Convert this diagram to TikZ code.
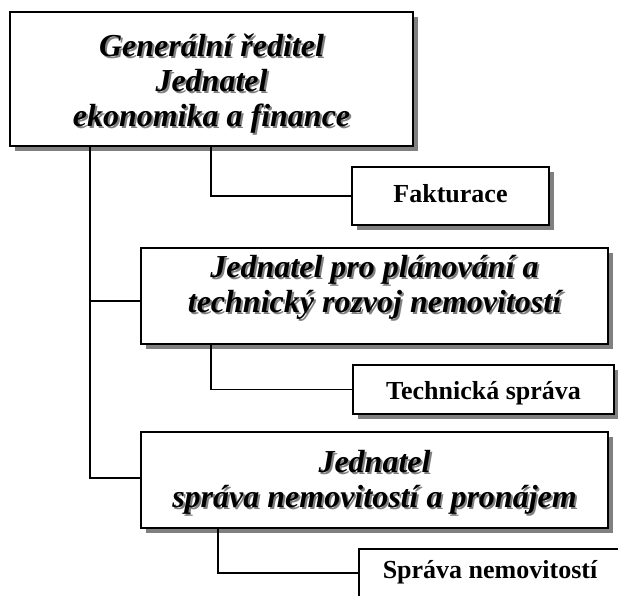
\documentclass[tikz,border=0pt]{standalone}
\usepackage{fontspec}
\setmainfont{Liberation Serif}
\usetikzlibrary{shadows}
% centred lines of a box
\newcommand\boxlines[1]{\begin{tabular}{@{}c@{}}#1\end{tabular}}
% text with a grey shadow; optional argument moves it up or down
\newcommand\shtext[2][0pt]{\raisebox{#1}[\height][\depth]{\rlap{\raisebox{-2pt}[0pt][0pt]{\hspace{2pt}\textcolor{black!50}{#2}}}#2}}
\begin{document}
\begin{tikzpicture}[x=1pt,y=-1pt,
  box/.style={draw=black, line width=2pt, fill=white, inner sep=0pt,
    drop shadow={shadow xshift=5pt, shadow yshift=-5pt, fill=black!50, opacity=1}},
  head/.style={box, font=\fontsize{32}{35}\selectfont\bfseries\itshape},
  unit/.style={box, font=\fontsize{26}{30}\selectfont\bfseries, text height=18pt, text depth=6pt},
  conn/.style={line width=1.8pt}]
\useasboundingbox (0,0) rectangle (618,596);

% management boxes
\node[head, minimum width=403pt, minimum height=134pt] (gr) at (211.5,79)
  {\shtext[-6pt]{\boxlines{Generální ředitel\\Jednatel\\ekonomika a finance}}};
\node[head, minimum width=467pt, minimum height=96pt] (b2) at (374.5,296)
  {\shtext[8pt]{\boxlines{Jednatel pro plánování a\\technický rozvoj nemovitostí}}};
\node[head, minimum width=467pt, minimum height=96pt] (b3) at (374.5,480)
  {\shtext[-3pt]{\boxlines{Jednatel\\správa nemovitostí a pronájem}}};

% departments
\node[unit, minimum width=197pt, minimum height=58pt] (fak) at (450.5,196) {Fakturace};
\node[unit, minimum width=261pt, minimum height=49pt, text height=22pt, text depth=3pt] (tech) at (483.5,389.5) {Technická správa};
\node[unit, minimum width=262pt, minimum height=60pt, text depth=20pt, anchor=north west] (spr) at (358,548) {Správa nemovitostí};

% connectors
\draw[conn] ([xshift=81pt]gr.south west) |- ([yshift=-5pt]b2.west);
\draw[conn] ([xshift=81pt]gr.south west) |- ([yshift=2pt]b3.west);
\draw[conn] ([xshift=202pt]gr.south west) |- (fak.west);
\draw[conn] ([xshift=71pt]b2.south west) |- (tech.west);
\draw[conn] ([xshift=78pt]b3.south west) |- ([yshift=6pt]spr.west);
\end{tikzpicture}
\end{document}
